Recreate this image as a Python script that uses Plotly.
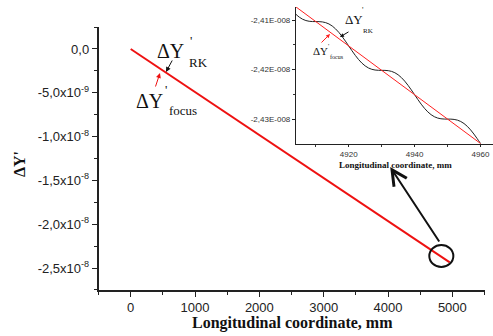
import plotly.graph_objects as go

W, H = 493, 336

# ---------------- data ----------------
main_x = [0, 4960]
main_y = [0.0, -2.43486e-8]

main_xticks = [0, 1000, 2000, 3000, 4000, 5000]
main_xticklabels = ["0", "1000", "2000", "3000", "4000", "5000"]
main_yticks = [0.0, -5e-9, -1e-8, -1.5e-8, -2e-8, -2.5e-8]
main_yticklabels = ["0,0", "-5,0x10<sup>-9</sup>", "-1,0x10<sup>-8</sup>",
                    "-1,5x10<sup>-8</sup>", "-2,0x10<sup>-8</sup>", "-2,5x10<sup>-8</sup>"]

inset_x = list(range(4904, 4961))
inset_rk = [
    -2.408860e-8, -2.409427e-8, -2.409842e-8, -2.410110e-8, -2.410256e-8, -2.410311e-8,
    -2.410319e-8, -2.410327e-8, -2.410382e-8, -2.410528e-8, -2.410796e-8, -2.411211e-8,
    -2.411778e-8, -2.412491e-8, -2.413328e-8, -2.414254e-8, -2.415228e-8, -2.416202e-8,
    -2.417128e-8, -2.417965e-8, -2.418678e-8, -2.419245e-8, -2.419660e-8, -2.419928e-8,
    -2.420074e-8, -2.420129e-8, -2.420137e-8, -2.420145e-8, -2.420200e-8, -2.420346e-8,
    -2.420614e-8, -2.421029e-8, -2.421596e-8, -2.422309e-8, -2.423146e-8, -2.424072e-8,
    -2.425046e-8, -2.426020e-8, -2.426946e-8, -2.427783e-8, -2.428496e-8, -2.429063e-8,
    -2.429478e-8, -2.429746e-8, -2.429892e-8, -2.429947e-8, -2.429955e-8, -2.429963e-8,
    -2.430018e-8, -2.430164e-8, -2.430432e-8, -2.430847e-8, -2.431414e-8, -2.432127e-8,
    -2.432964e-8, -2.433890e-8, -2.434864e-8,
]
inset_focus_x = [4904, 4960]
inset_focus_y = [-2.40737e-8, -2.43486e-8]

inset_xticks = [4920, 4940, 4960]
inset_xticklabels = ["4920", "4940", "4960"]
inset_yticks = [-2.41e-8, -2.42e-8, -2.43e-8]
inset_yticklabels = ["-2,41E-008", "-2,42E-008", "-2,43E-008"]

# ---------------- helpers ----------------
def px(x):
    return x / W

def py(y):
    return 1 - y / H

SERIF = "Liberation Serif, Times New Roman, serif"
SANS = "Liberation Sans, Arial, sans-serif"

fig = go.Figure()
fig.add_trace(go.Scatter(x=main_x, y=main_y, mode="lines",
                         line=dict(color="#ee1111", width=2), xaxis="x", yaxis="y",
                         showlegend=False))
fig.add_trace(go.Scatter(x=inset_x, y=inset_rk, mode="lines", line_shape="spline",
                         line=dict(color="#222222", width=1), xaxis="x2", yaxis="y2",
                         showlegend=False))
fig.add_trace(go.Scatter(x=inset_focus_x, y=inset_focus_y, mode="lines",
                         line=dict(color="#ff2020", width=1), xaxis="x2", yaxis="y2",
                         showlegend=False))

axis_common = dict(showgrid=False, zeroline=False, showline=True, linecolor="#222222",
                   ticks="outside", tickcolor="#222222")

fig.update_layout(
    width=W, height=H, margin=dict(l=0, r=0, t=0, b=0),
    paper_bgcolor="white", plot_bgcolor="rgba(0,0,0,0)",
    xaxis=dict(axis_common, domain=[px(98.5), px(484.5)], range=[-500, 5500],
               tickmode="array", tickvals=main_xticks, ticktext=main_xticklabels,
               ticklen=5, linewidth=1.5, tickwidth=1.3,
               tickfont=dict(family=SANS, size=13, color="#222222"),
               minor=dict(tickmode="linear", tick0=0, dtick=500, ticks="outside",
                          ticklen=3, tickcolor="#222222"),
               anchor="y"),
    yaxis=dict(axis_common, domain=[py(290), py(27)], range=[-2.751e-8, 2.51e-9],
               tickmode="array", tickvals=main_yticks, ticktext=main_yticklabels,
               ticklen=5, linewidth=1.5, tickwidth=1.3,
               tickfont=dict(family=SANS, size=13, color="#222222"),
               minor=dict(tickmode="linear", tick0=0, dtick=2.5e-9, ticks="outside",
                          ticklen=3, tickcolor="#222222"),
               anchor="x"),
    xaxis2=dict(axis_common, domain=[px(296), 1.0], range=[4904, 4963.8],
                tickmode="array", tickvals=inset_xticks, ticktext=inset_xticklabels,
                ticklen=2, linewidth=1.2, tickwidth=1,
                tickfont=dict(family=SANS, size=8, color="#333333"),
                minor=dict(tickmode="linear", tick0=4910, dtick=20, ticks="outside",
                           ticklen=2, tickcolor="#333333"),
                anchor="y2"),
    yaxis2=dict(axis_common, domain=[py(144), py(7)], range=[-2.43497e-8, -2.40738e-8],
                tickmode="array", tickvals=inset_yticks, ticktext=inset_yticklabels,
                ticklen=3, linewidth=1.2, tickwidth=1,
                tickfont=dict(family=SANS, size=8, color="#333333"),
                minor=dict(tickmode="linear", tick0=-2.415e-8, dtick=1e-10, ticks="outside",
                           ticklen=2, tickcolor="#333333"),
                anchor="x2"),
)

ann = []

def txt(x, y, s, size, family=SERIF, bold=False, color="#111111", angle=0):
    if bold:
        s = "<b>" + s + "</b>"
    ann.append(dict(x=px(x), y=py(y), xref="paper", yref="paper", text=s, showarrow=False,
                    xanchor="center", yanchor="middle", textangle=angle,
                    font=dict(family=family, size=size, color=color)))

def arrow(x0, y0, x1, y1, color, width=1, head=2, size=1):
    # tail (x0,y0) -> head (x1,y1), pixel coordinates
    ann.append(dict(x=px(x1), y=py(y1), xref="paper", yref="paper", text="",
                    showarrow=True, ax=x0 - x1, ay=y0 - y1, axref="pixel", ayref="pixel",
                    arrowcolor=color, arrowwidth=width, arrowhead=head, arrowsize=size,
                    standoff=0, startstandoff=0))

# axis titles
txt(292, 323, "Longitudinal coordinate, mm", 16, bold=True)
txt(19, 164, "ΔY'", 16, bold=True, angle=-90)
txt(395, 165, "Longitudinal coordinate, mm", 9, bold=True)

# main annotations
txt(170, 51, "ΔY", 20)
txt(191, 40, "'", 13)
txt(198, 62, "RK", 13)
arrow(173, 59, 166, 72, "#111111", 1, 2, 1)
arrow(155, 88, 160, 73, "#ee1111", 1, 2, 1)
txt(149, 101, "ΔY", 20)
txt(166, 90, "'", 13)
txt(183, 111, "focus", 13)

# inset annotations
txt(354, 19, "ΔY", 13)
txt(363, 10, "'", 8)
txt(368, 31, "RK", 7)
arrow(350, 31, 340, 37, "#111111", 1, 2, 0.8)
arrow(320, 44, 330, 34, "#ff2020", 1, 2, 0.8)
txt(320, 51, "ΔY", 11)
txt(328, 46, "'", 7)
txt(337, 57, "focus", 6)

# big pointer arrow from circle to inset
ann.append(dict(x=4034, y=-1.347e-8, xref="x", yref="y", text="", showarrow=True,
                ax=50, ay=76, axref="pixel", ayref="pixel", arrowcolor="#111111",
                arrowwidth=2, arrowhead=5, arrowsize=1.5, standoff=0))

fig.update_layout(annotations=ann)

fig.add_shape(type="circle", xref="x", yref="y", x0=4642, x1=5016, y0=-2.489e-8, y1=-2.237e-8,
              line=dict(color="#111111", width=2))

fig.write_html("out.html")
